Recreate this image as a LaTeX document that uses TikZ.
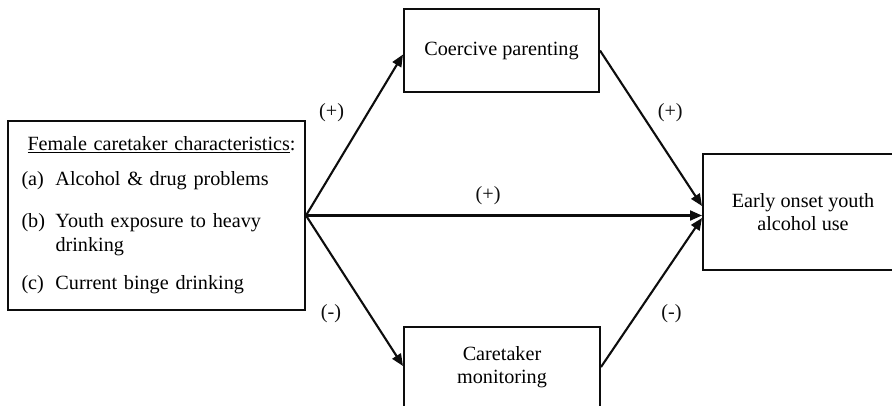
\documentclass[tikz,border=0pt]{standalone}
\usepackage{fontspec}
\setmainfont{Liberation Serif}
\usetikzlibrary{arrows.meta}
\colorlet{box_line}{black!95}
\tikzset{
    factor_box/.style={draw=box_line,line width=2pt,align=center,font=\fontsize{20.2}{23.5}\selectfont},
    path_arrow/.style={-{Triangle[length=12pt,width=10pt]},line width=2.1pt,box_line},
    sign_label/.style={inner sep=0pt,font=\fontsize{20.2}{23.5}\selectfont},
}

\begin{document}
\begin{tikzpicture}[x=1pt,y=-1pt]
  \useasboundingbox (0,0) rectangle (892,405);
  % Draw boxes
  \node[factor_box,text width=270pt,inner xsep=13.5pt,minimum height=189pt,align=left] (traits) at (156.5,215.5) {%
    \begin{tabular}{@{}p{34pt}@{}l@{}}
      \multicolumn{2}{@{\hspace{6pt}}l@{}}{\underline{Female caretaker characteristics}:}\\[11.5pt]
      (a) & Alcohol \& drug problems\\[18.5pt]
      (b) & Youth exposure to heavy\\
          & drinking\\[14.5pt]
      (c) & Current binge drinking
    \end{tabular}};
  \node[factor_box,minimum width=195pt,minimum height=83pt] (coerce) at (501.5,50.5) {Coercive parenting};
  \node[factor_box,minimum width=196pt,minimum height=80pt] (monitor) at (502,367) {Caretaker\\monitoring};
  \node[factor_box,minimum width=200pt,minimum height=116pt] (onset) at (803,212) {Early onset youth\\alcohol use};
  % Draw paths
  \draw[path_arrow] (traits.east) -- ([yshift=-4pt]coerce.west) node[sign_label,pos=0.64,left=23pt] {(+)};
  \draw[path_arrow] (traits.east) -- (traits.east -| onset.west) node[sign_label,pos=0.46,above=10pt] {(+)};
  \draw[path_arrow] (traits.east) -- ([yshift=1pt]monitor.west) node[sign_label,pos=0.65,left=27pt] {(-)};
  \draw[path_arrow] (coerce.east) -- ([yshift=6pt]onset.west) node[sign_label,pos=0.40,right=16pt] {(+)};
  \draw[path_arrow] (monitor.east) -- ([yshift=-6pt]onset.west) node[sign_label,pos=0.36,right=23pt] {(-)};
\end{tikzpicture}
\end{document}
